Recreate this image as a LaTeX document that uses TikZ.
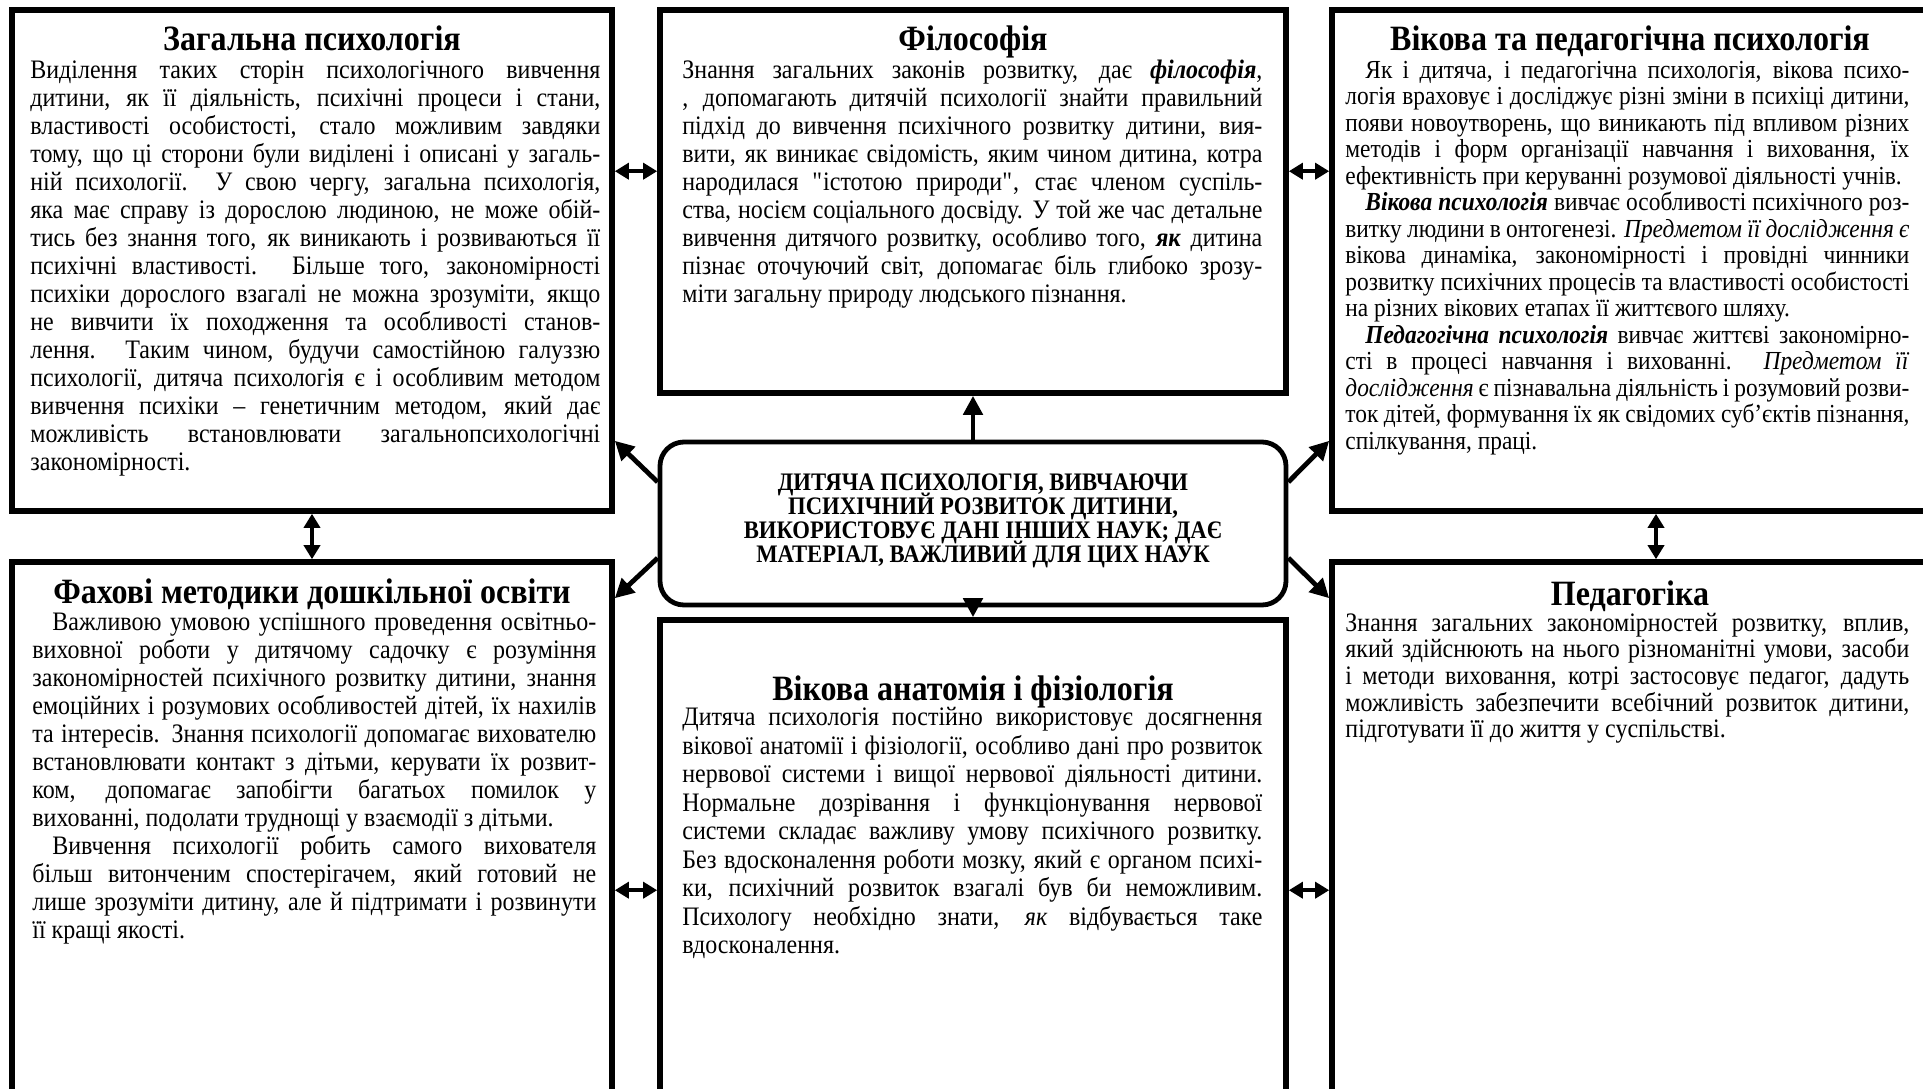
\documentclass[tikz,border=0pt]{standalone}
\usepackage{fontspec}
\setmainfont{Liberation Serif}[FakeStretch=0.9]
\usetikzlibrary{arrows.meta}
\setlength{\lineskiplimit}{-50pt}

% justified line, last line of a paragraph, indent
\newcommand\jl[1]{\hbox to\hsize{#1}}
\newcommand\el[1]{\hbox{#1}}
\newcommand\ind{\hspace*{10pt}}
\newcommand\bi[1]{\textbf{\textit{#1}}}
\newcommand\dq{\XeTeXglyph\XeTeXcharglyph34\relax}

\begin{document}
\begin{tikzpicture}[x=0.5pt,y=-0.5pt,
    box/.style={draw,line width=2.8pt,inner sep=0pt},
    hub/.style={draw,line width=2.4pt,rounded corners=12pt,inner sep=0pt},
    ttl/.style={anchor=base,inner sep=0pt,font=\fontsize{17.8}{20}\selectfont\bfseries},
    txt/.style={anchor=base west,inner sep=0pt,font=\fontsize{13.33}{14}\selectfont},
    link/.style={line width=2.4pt,-{Triangle[length=9.5pt,width=9.5pt]}},
    dbl/.style={line width=2.2pt,{Triangle[length=7pt,width=8pt]}-{Triangle[length=7pt,width=8pt]}}]

  % Page
  \useasboundingbox (0,0) rectangle (1923,1088);
  \fill[white] (0,0) rectangle (1923,1088);

  % Boxes
  \node[box,minimum width=300pt,minimum height=250.5pt] (tl) at (312,260.5) {};
  \node[box,minimum width=313pt,minimum height=191.5pt] (tm) at (973,201.5) {};
  \node[box,minimum width=303pt,minimum height=250.5pt] (tr) at (1635,260.5) {};
  \node[box,minimum width=300pt,minimum height=269pt] (bl) at (312,831) {};
  \node[box,minimum width=313pt,minimum height=240pt] (bm) at (973,860) {};
  \node[box,minimum width=303pt,minimum height=269pt] (br) at (1635,831) {};
  \node[hub,minimum width=313pt,minimum height=81.5pt] (hub) at (973,523.5) {};

  % Centre
  \node[align=center,inner sep=0pt,font=\fontsize{12.6}{12}\selectfont\bfseries] (hubtxt) at (983,521)
    {ДИТЯЧА ПСИХОЛОГІЯ, ВИВЧАЮЧИ\\ПСИХІЧНИЙ РОЗВИТОК ДИТИНИ,\\ВИКОРИСТОВУЄ ДАНІ ІНШИХ НАУК; ДАЄ\\МАТЕРІАЛ, ВАЖЛИВИЙ ДЛЯ ЦИХ НАУК};

  % Titles
  \node[ttl] (tlttl) at (312,50.5) {Загальна психологія};
  \node[ttl] (tmttl) at (973,50.5) {Філософія};
  \node[ttl] (trttl) at (1630,50.5) {Вікова та педагогічна психологія};
  \node[ttl] (blttl) at (312,603.5) {Фахові методики дошкільної освіти};
  \node[ttl] (bmttl) at (973,700) {Вікова анатомія і фізіологія};
  \node[ttl] (brttl) at (1630,605.5) {Педагогіка};

  % Texts
  \node[txt] (tlbody) at (30,78) {\vtop{\hsize=285pt
    \jl{Виділення таких сторін психологічного вивчення}
    \jl{дитини, як її діяльність, психічні процеси і стани,}
    \jl{властивості особистості, стало можливим завдяки}
    \jl{тому, що ці сторони були виділені і описані у загаль-}
    \jl{ній психології. У свою чергу, загальна психологія,}
    \jl{яка має справу із дорослою людиною, не може обій-}
    \jl{тись без знання того, як виникають і розвиваються її}
    \jl{психічні властивості. Більше того, закономірності}
    \jl{психіки дорослого взагалі не можна зрозуміти, якщо}
    \jl{не вивчити їх походження та особливості станов-}
    \jl{лення. Таким чином, будучи самостійною галуззю}
    \jl{психології, дитяча психологія є і особливим методом}
    \jl{вивчення психіки – генетичним методом, який дає}
    \jl{можливість встановлювати загальнопсихологічні}
    \el{закономірності.}}};

  \node[txt] (tmbody) at (682,78) {\vtop{\hsize=290pt
    \jl{Знання загальних законів розвитку, дає \bi{філософія},}
    \jl{, допомагають дитячій психології знайти правильний}
    \jl{підхід до вивчення психічного розвитку дитини, вия-}
    \jl{вити, як виникає свідомість, яким чином дитина, котра}
    \jl{народилася \dq істотою природи\dq, стає членом суспіль-}
    \jl{ства, носієм соціального досвіду. У той же час детальне}
    \jl{вивчення дитячого розвитку, особливо того, \bi{як} дитина}
    \jl{пізнає оточуючий світ, допомагає біль глибоко зрозу-}
    \el{міти загальну природу людського пізнання.}}};

  \node[txt] (trbody) at (1345,78) {\vtop{\hsize=282pt\fontsize{13}{13.25}\selectfont
    \jl{\ind Як і дитяча, і педагогічна психологія, вікова психо-}
    \jl{логія враховує і досліджує різні зміни в психіці дитини,}
    \jl{появи новоутворень, що виникають під впливом різних}
    \jl{методів і форм організації навчання і виховання, їх}
    \el{ефективність при керуванні розумової діяльності учнів.}
    \jl{\ind\bi{Вікова психологія} вивчає особливості психічного роз-}
    \jl{витку людини в онтогенезі. \textit{Предметом її дослідження є}}
    \jl{вікова динаміка, закономірності і провідні чинники}
    \jl{розвитку психічних процесів та властивості особистості}
    \el{на різних вікових етапах її життєвого шляху.}
    \jl{\ind\bi{Педагогічна психологія} вивчає життєві закономірно-}
    \jl{сті в процесі навчання і вихованні. \textit{Предметом її}}
    \jl{\textit{дослідження} є пізнавальна діяльність і розумовий розви-}
    \jl{ток дітей, формування їх як свідомих суб’єктів пізнання,}
    \el{спілкування, праці.}}};

  \node[txt] (blbody) at (32,630) {\vtop{\hsize=282pt
    \jl{\ind Важливою умовою успішного проведення освітньо-}
    \jl{виховної роботи у дитячому садочку є розуміння}
    \jl{закономірностей психічного розвитку дитини, знання}
    \jl{емоційних і розумових особливостей дітей, їх нахилів}
    \jl{та інтересів. Знання психології допомагає вихователю}
    \jl{встановлювати контакт з дітьми, керувати їх розвит-}
    \jl{ком, допомагає запобігти багатьох помилок у}
    \el{вихованні, подолати труднощі у взаємодії з дітьми.}
    \jl{\ind Вивчення психології робить самого вихователя}
    \jl{більш витонченим спостерігачем, який готовий не}
    \jl{лише зрозуміти дитину, але й підтримати і розвинути}
    \el{її кращі якості.}}};

  \node[txt] (bmbody) at (682,725.5) {\vtop{\hsize=290pt\baselineskip=14.25pt
    \jl{Дитяча психологія постійно використовує досягнення}
    \jl{вікової анатомії і фізіології, особливо дані про розвиток}
    \jl{нервової системи і вищої нервової діяльності дитини.}
    \jl{Нормальне дозрівання і функціонування нервової}
    \jl{системи складає важливу умову психічного розвитку.}
    \jl{Без вдосконалення роботи мозку, який є органом психі-}
    \jl{ки, психічний розвиток взагалі був би неможливим.}
    \jl{Психологу необхідно знати, \textit{як} відбувається таке}
    \el{вдосконалення.}}};

  \node[txt] (brbody) at (1345,631) {\vtop{\hsize=282pt\baselineskip=13.35pt
    \jl{Знання загальних закономірностей розвитку, вплив,}
    \jl{який здійснюють на нього різноманітні умови, засоби}
    \jl{і методи виховання, котрі застосовує педагог, дадуть}
    \jl{можливість забезпечити всебічний розвиток дитини,}
    \el{підготувати її до життя у суспільстві.}}};

  % Arrows from the centre
  \draw[link] (hub.north) -- (tm.south);
  \draw[link] (hub.south) -- (bm.north);
  \draw[link] ([yshift=20.75pt]hub.west) -- ([yshift=36.5pt]tl.south east);
  \draw[link] ([yshift=-17.25pt]hub.west) -- ([yshift=-19.5pt]bl.north east);
  \draw[link] ([yshift=20.75pt]hub.east) -- ([yshift=36.5pt]tr.south west);
  \draw[link] ([yshift=-17.25pt]hub.east) -- ([yshift=-19.5pt]br.north west);

  % Links between the boxes
  \draw[dbl] ([yshift=-82pt]tl.north east) -- ([yshift=-82pt]tm.north west);
  \draw[dbl] ([yshift=-82pt]tm.north east) -- ([yshift=-82pt]tr.north west);
  \draw[dbl] ([yshift=-165.5pt]bl.north east) -- ([yshift=-136.5pt]bm.north west);
  \draw[dbl] ([yshift=-136.5pt]bm.north east) -- ([yshift=-165.5pt]br.north west);
  \draw[dbl] (tl.south) -- (bl.north);
  \draw[dbl] ([xshift=10.5pt]tr.south) -- ([xshift=10.5pt]br.north);
\end{tikzpicture}
\end{document}
